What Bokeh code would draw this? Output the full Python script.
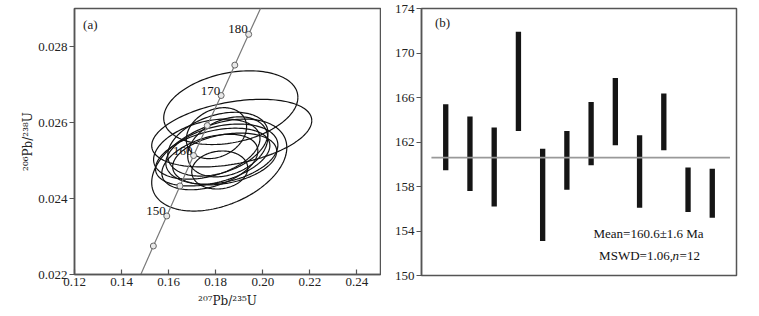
import numpy as np
from bokeh.plotting import figure
from bokeh.layouts import row
from bokeh.models import Range1d, FixedTicker, Label, PrintfTickFormatter, Title
from bokeh.embed import file_html
from bokeh.resources import INLINE
from bokeh.core.properties import value

# ---------------- data: panel (a) ----------------
conc_age = [140, 145, 150, 155, 160, 165, 170, 175, 180, 185]
conc_x = [0.14784, 0.1535, 0.1592, 0.1648, 0.1706, 0.1764, 0.1823, 0.1881, 0.1940, 0.19985]
conc_y = [0.021955, 0.02275, 0.02354, 0.02433, 0.02513, 0.02592, 0.02671, 0.02751, 0.02832, 0.029114]
mark_age = [145, 150, 155, 160, 165, 170, 175, 180]
label_age = [150, 160, 170, 180]

# error ellipses: centre, half-extent in x and y, correlation
ell_x = [0.1864, 0.1868, 0.1815, 0.1762, 0.1803, 0.1817, 0.1787, 0.1826, 0.1809, 0.1838, 0.1775, 0.1851]
ell_y = [0.02639, 0.02572, 0.02488, 0.02530, 0.02572, 0.02475, 0.02509, 0.02517, 0.02543, 0.02504, 0.02496, 0.02536]
ell_hx = [0.0285, 0.0340, 0.0287, 0.0226, 0.0128, 0.0119, 0.0243, 0.0238, 0.0213, 0.0221, 0.0204, 0.0170]
ell_hy = [0.00097, 0.00089, 0.00121, 0.00079, 0.00067, 0.00050, 0.00076, 0.00079, 0.00084, 0.00068, 0.00073, 0.00079]
ell_rho = [0.28, 0.37, 0.38, 0.35, 0.25, 0.10, 0.40, 0.30, 0.35, 0.30, 0.40, 0.30]

x_ticks = [0.12, 0.14, 0.16, 0.18, 0.20, 0.22, 0.24]
y_ticks = [0.022, 0.024, 0.026, 0.028]
x_title = "²⁰⁷Pb/²³⁵U"
y_title = "²⁰⁶Pb/²³⁸U"

# ---------------- data: panel (b) ----------------
spot = [1, 2, 3, 4, 5, 6, 7, 8, 9, 10, 11, 12]
age_lo = [159.45, 157.6, 156.2, 163.0, 153.1, 157.7, 159.9, 161.7, 156.1, 161.25, 155.7, 155.2]
age_hi = [165.4, 164.3, 163.3, 171.9, 161.4, 163.0, 165.6, 167.75, 162.6, 166.35, 159.7, 159.6]
mean_age = 160.6
age_ticks = [150, 154, 158, 162, 166, 170, 174]

SERIF = "Liberation Serif"
TSERIF = "DejaVu Serif"
AX = "#555555"

# ---------------- panel (a) ----------------
p1 = figure(frame_width=306, frame_height=266, x_range=Range1d(0.12, 0.25),
            y_range=Range1d(0.022, 0.029), output_backend="svg",
            toolbar_location=None, min_border_left=74, min_border_right=1,
            min_border_top=8, min_border_bottom=36)
p1.grid.visible = False
p1.outline_line_color = AX
p1.outline_line_width = 1.5

t = np.linspace(0, 2 * np.pi, 160)
xs, ys = [], []
for cx, cy, hx, hy, r in zip(ell_x, ell_y, ell_hx, ell_hy, ell_rho):
    xs.append(cx + hx * np.cos(t))
    ys.append(cy + hy * (r * np.cos(t) + np.sqrt(1 - r * r) * np.sin(t)))
p1.multi_line(xs, ys, line_color="#111111", line_width=1.2)

p1.line(conc_x, conc_y, line_color="#7a7a7a", line_width=1.2)
mx = [conc_x[conc_age.index(a)] for a in mark_age]
my = [conc_y[conc_age.index(a)] for a in mark_age]
p1.scatter(mx, my, marker="circle", size=6, fill_color="#e8e8e8",
           line_color="#666666", line_width=1)
lx = [conc_x[conc_age.index(a)] for a in label_age]
ly = [conc_y[conc_age.index(a)] for a in label_age]
p1.text(lx, ly, text=[str(a) for a in label_age], text_font=value(SERIF),
        text_font_size="13px", text_align="right", text_baseline="middle",
        x_offset=-1, y_offset=-5, text_color="#111111")

p1.add_layout(Label(x=0.1267, y=0.02858, text="(a)", text_font=SERIF,
                    text_font_size="13px", text_align="center",
                    text_baseline="middle", text_color="#222222"))

# rotated y title placed in the left side panel, shifted upwards
p1.add_layout(Title(text=y_title, align="center", offset=36, text_font=TSERIF,
                    text_font_size="12px", text_font_style="normal",
                    text_color="#222222", standoff=2), "left")

xa = p1.xaxis[0]
xa.ticker = FixedTicker(ticks=x_ticks)
xa.formatter = PrintfTickFormatter(format="%.2f")
xa.major_tick_in = 5
xa.major_tick_out = 0
xa.minor_tick_line_color = None
xa.major_label_standoff = 3
xa.axis_label = x_title
xa.axis_label_standoff = 5
xa.axis_label_text_font = TSERIF
xa.axis_label_text_font_size = "12px"
xa.axis_label_text_font_style = "normal"
xa.axis_label_text_color = "#222222"

ya = p1.yaxis[0]
ya.ticker = FixedTicker(ticks=y_ticks)
ya.formatter = PrintfTickFormatter(format="%.3f")
ya.major_tick_in = 0
ya.major_tick_out = 5
ya.minor_tick_line_color = None
ya.major_label_standoff = 2
ya.major_label_orientation = "horizontal"

for ax in (xa, ya):
    ax.axis_line_color = AX
    ax.axis_line_width = 1.5
    ax.major_tick_line_color = AX
    ax.major_tick_line_width = 1.2
    ax.major_label_text_font = SERIF
    ax.major_label_text_font_size = "13px"
    ax.major_label_text_color = "#222222"

# ---------------- panel (b) ----------------
p2 = figure(frame_width=315, frame_height=267, x_range=Range1d(0, 13),
            y_range=Range1d(150, 174), output_backend="svg",
            toolbar_location=None, min_border_left=40, min_border_right=8,
            min_border_top=8, min_border_bottom=12)
p2.grid.visible = False
p2.outline_line_color = AX
p2.outline_line_width = 1.5
p2.xaxis.visible = False

p2.vbar(x=spot, bottom=age_lo, top=age_hi, width=0.22, fill_color="#151515",
        line_color=None)
p2.line([0.41, 12.73], [mean_age, mean_age], line_color="#999999", line_width=1.8)

p2.add_layout(Label(x=0.87, y=172.7, text="(b)", text_font=SERIF,
                    text_font_size="13px", text_align="center",
                    text_baseline="middle", text_color="#222222"))
p2.add_layout(Label(x=9.37, y=153.8, text="Mean=160.6±1.6 Ma", text_font=SERIF,
                    text_font_size="13px", text_align="center",
                    text_baseline="middle", text_color="#111111"))
p2.add_layout(Label(x=7.33, y=151.83, text="MSWD=1.06,", text_font=SERIF,
                    text_font_size="13px", text_align="left",
                    text_baseline="middle", text_color="#111111"))
p2.add_layout(Label(x=7.33, y=151.83, x_offset=73.5, text="n", text_font=SERIF,
                    text_font_size="13px", text_font_style="italic",
                    text_align="left", text_baseline="middle", text_color="#111111"))
p2.add_layout(Label(x=7.33, y=151.83, x_offset=80.5, text="=12", text_font=SERIF,
                    text_font_size="13px", text_align="left",
                    text_baseline="middle", text_color="#111111"))

yb = p2.yaxis[0]
yb.ticker = FixedTicker(ticks=age_ticks)
yb.major_tick_in = 0
yb.major_tick_out = 5
yb.minor_tick_line_color = None
yb.major_label_standoff = 2
yb.axis_line_color = AX
yb.axis_line_width = 1.5
yb.major_tick_line_color = AX
yb.major_tick_line_width = 1.2
yb.major_label_text_font = SERIF
yb.major_label_text_font_size = "13px"
yb.major_label_text_color = "#222222"

layout = row(p1, p2)
open("out.html", "w").write(file_html(layout, INLINE))
